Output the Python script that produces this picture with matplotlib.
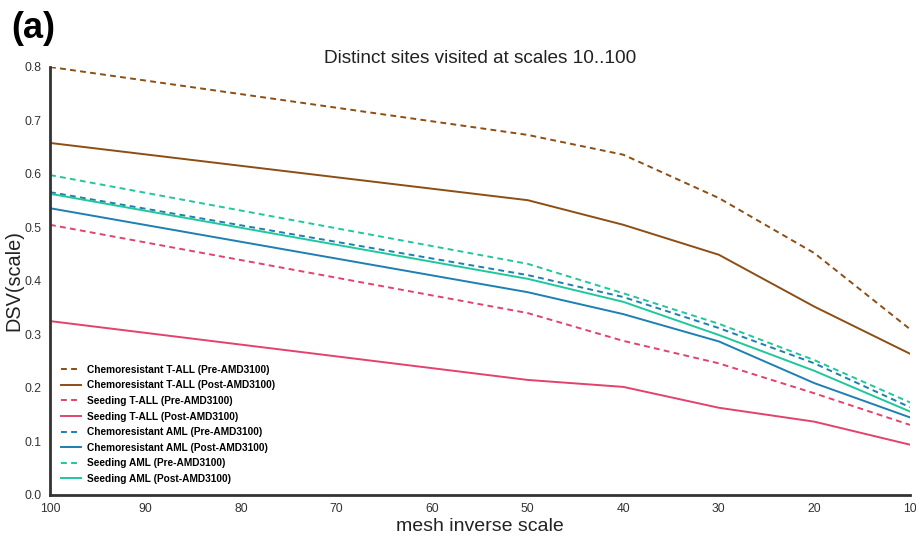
import matplotlib.pyplot as plt

scales = [100, 50, 40, 30, 20, 10]

chemo_tall_pre = [0.800, 0.673, 0.636, 0.555, 0.452, 0.310]
chemo_tall_post = [0.658, 0.551, 0.505, 0.449, 0.352, 0.264]
seed_tall_pre = [0.505, 0.340, 0.288, 0.246, 0.190, 0.131]
seed_tall_post = [0.325, 0.215, 0.202, 0.163, 0.137, 0.094]
chemo_aml_pre = [0.566, 0.411, 0.370, 0.312, 0.246, 0.164]
chemo_aml_post = [0.536, 0.379, 0.338, 0.287, 0.209, 0.145]
seed_aml_pre = [0.598, 0.432, 0.377, 0.320, 0.252, 0.173]
seed_aml_post = [0.563, 0.404, 0.361, 0.299, 0.232, 0.156]

brown = "#8c4e14"
red = "#e2426c"
blue = "#1d7fb2"
green = "#1fc79c"

series = [
    ("Chemoresistant T-ALL (Pre-AMD3100)", chemo_tall_pre, brown, "--"),
    ("Chemoresistant T-ALL (Post-AMD3100)", chemo_tall_post, brown, "-"),
    ("Seeding T-ALL (Pre-AMD3100)", seed_tall_pre, red, "--"),
    ("Seeding T-ALL (Post-AMD3100)", seed_tall_post, red, "-"),
    ("Chemoresistant AML (Pre-AMD3100)", chemo_aml_pre, blue, "--"),
    ("Chemoresistant AML (Post-AMD3100)", chemo_aml_post, blue, "-"),
    ("Seeding AML (Pre-AMD3100)", seed_aml_pre, green, "--"),
    ("Seeding AML (Post-AMD3100)", seed_aml_post, green, "-"),
]

plt.rcParams['font.family'] = ['Liberation Sans', 'DejaVu Sans']

fig = plt.figure(figsize=(9.16, 5.38), dpi=100)
ax = fig.add_axes([0.0546, 0.080, 0.9388, 0.7955])

for label, vals, col, ls in series:
    if ls == "--":
        ax.plot(scales, vals, color=col, lw=1.4, linestyle=(0, (3, 2.2)), label=label)
    else:
        ax.plot(scales, vals, color=col, lw=1.4, label=label)

ax.set_xlim(100, 10)
ax.set_ylim(0, 0.8)
ax.set_xticks(range(100, 0, -10))
ax.set_yticks([0.0, 0.1, 0.2, 0.3, 0.4, 0.5, 0.6, 0.7, 0.8])
ax.tick_params(length=0, labelsize=8.7, colors="#333333", pad=6)
for s in ["top", "right"]:
    ax.spines[s].set_visible(False)
for s in ["left", "bottom"]:
    ax.spines[s].set_linewidth(2)
    ax.spines[s].set_color("#333333")

ax.set_title("Distinct sites visited at scales 10..100", fontsize=13.7, color="#222222", pad=2)
ax.set_xlabel("mesh inverse scale", fontsize=14, color="#222222", labelpad=2)
ax.set_ylabel("DSV(scale)", fontsize=14.3, color="#222222", labelpad=0.5)

leg = ax.legend(loc="lower left", bbox_to_anchor=(0.0, 0.0), frameon=False,
                prop={"weight": "bold", "size": 7.3}, handlelength=2.0,
                handletextpad=0.5, labelspacing=0.55, borderaxespad=0.7)

fig.text(0.012, 0.93, "(a)", fontsize=26, fontweight="bold")

fig.savefig("out.png", dpi=100)
